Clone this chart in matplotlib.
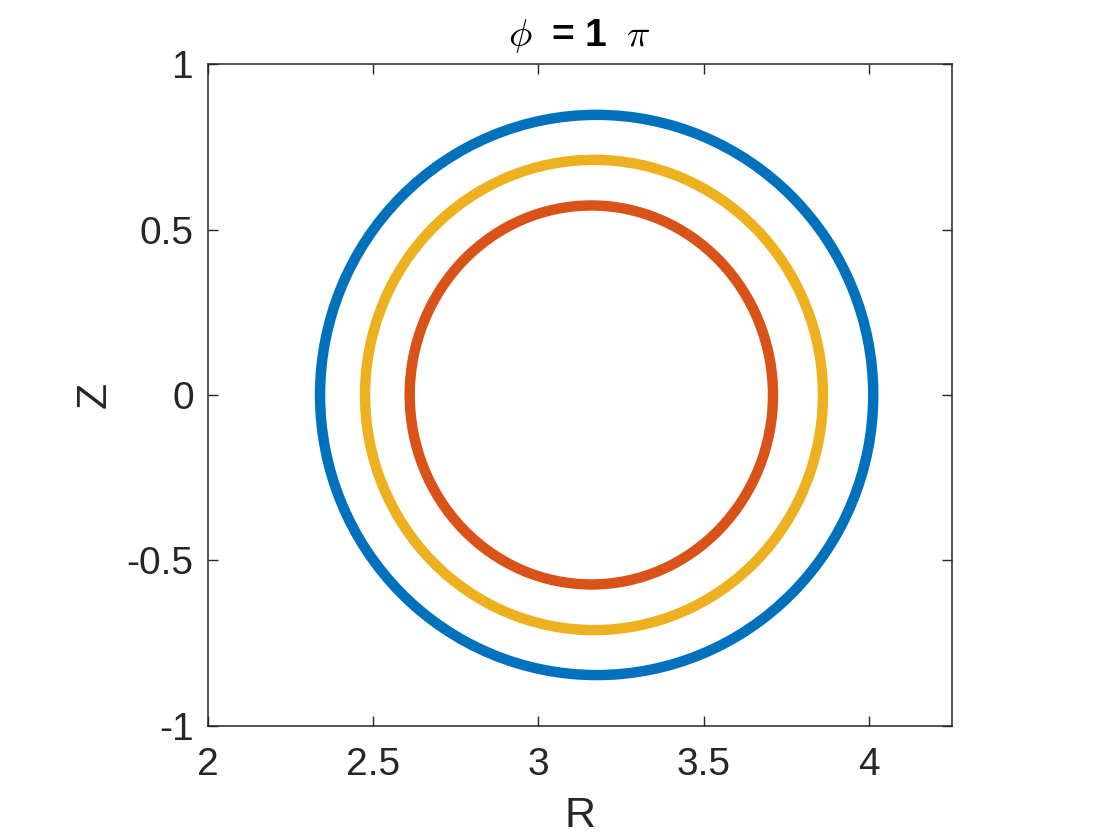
import matplotlib
matplotlib.use("Agg")
import matplotlib.pyplot as plt
from matplotlib.patches import Ellipse

# flux surfaces at phi = pi (outer, middle, inner)
surface_names = ["outer", "middle", "inner"]
center_R = [3.176, 3.168, 3.160]
center_Z = [0.0, 0.0, 0.0]
half_width_R = [0.836, 0.692, 0.549]
half_height_Z = [0.847, 0.711, 0.573]
surface_colors = ["#0072BD", "#EDB120", "#D95319"]

x_ticks = [2, 2.5, 3, 3.5, 4]
x_tick_labels = ["2", "2.5", "3", "3.5", "4"]
y_ticks = [-1, -0.5, 0, 0.5, 1]
y_tick_labels = ["-1", "-0.5", "0", "0.5", "1"]

plt.rcParams["font.family"] = ["Liberation Sans", "DejaVu Sans"]
plt.rcParams["mathtext.fontset"] = "cm"

fig = plt.figure(figsize=(11.2, 8.4), dpi=100)
ax = fig.add_axes([0.1853, 0.1361, 0.6647, 0.7874])

for name, r0, z0, a, b, c in zip(surface_names, center_R, center_Z,
                                 half_width_R, half_height_Z, surface_colors):
    ax.add_patch(Ellipse((r0, z0), 2 * a, 2 * b, fill=False,
                         edgecolor=c, linewidth=7.5, label=name))

ax.set_xlim(2, 4.25)
ax.set_ylim(-1, 1)
ax.set_xticks(x_ticks)
ax.set_xticklabels(x_tick_labels)
ax.set_yticks(y_ticks)
ax.set_yticklabels(y_tick_labels)

dark = "#262626"
for s in ax.spines.values():
    s.set_color(dark)
    s.set_linewidth(1.1)
ax.tick_params(direction="in", length=7, width=1.0, color=dark,
               labelcolor=dark, labelsize=28, top=True, right=True, pad=10)
ax.tick_params(axis="x", pad=15)

ax.set_xlabel("R", fontsize=31, color=dark, labelpad=10)
ax.set_ylabel("Z", fontsize=31, color=dark, labelpad=9)
ax.set_title(r"$\phi\;$ = 1 $\;\pi$", fontsize=28, fontweight="bold",
             color="black", pad=13)

fig.savefig("out.png", dpi=100)
